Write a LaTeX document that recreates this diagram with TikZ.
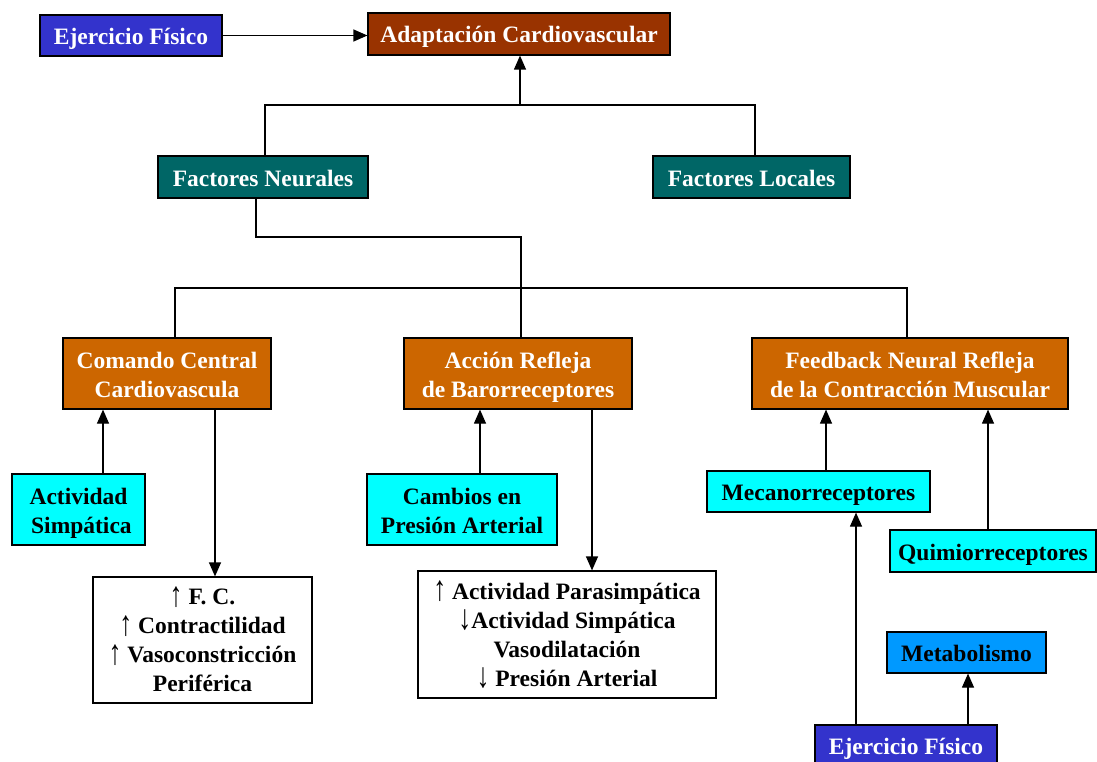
\documentclass[tikz,border=0pt]{standalone}
\usepackage{fontspec}
\usepackage{graphicx}
\setmainfont{Liberation Serif}
\usetikzlibrary{arrows.meta}
\definecolor{cEjer}{HTML}{3333CC}
\definecolor{cAdapt}{HTML}{993300}
\definecolor{cFact}{HTML}{006666}
\definecolor{cOrange}{HTML}{CC6600}
\definecolor{cCyan}{HTML}{00FFFF}
\definecolor{cMetab}{HTML}{0099FF}
\newcommand{\upar}{\raisebox{-1.5pt}{\scalebox{1.1}[1.5]{\mdseries ↑}}}
\newcommand{\dnar}{\raisebox{-1.5pt}{\scalebox{1.1}[1.5]{\mdseries ↓}}}
\tikzset{
  box/.style={draw=black, line width=1.2pt, inner sep=0pt, align=center,
    text height=22pt, text depth=4pt,
    font=\bfseries\fontsize{23.5}{29}\selectfont},
  twoline/.style={text height=51pt, text depth=4pt},
  darkbox/.style={box, text=white},
  lightbox/.style={box, text=black},
  listbox/.style={lightbox, fill=white, text height=107pt, text depth=4pt},
  conn/.style={line width=1.2pt, black},
  arr/.style={conn, -{Triangle[width=12pt,length=14pt]}},
}
\begin{document}
\begin{tikzpicture}[x=1pt,y=-1pt]
\useasboundingbox (0,0) rectangle (1097,762);
% boxes
\node[darkbox, fill=cEjer, minimum width=182pt, minimum height=41pt] (ejer1) at (131,35.5) {Ejercicio Físico};
\node[darkbox, fill=cAdapt, minimum width=302pt, minimum height=42pt] (adapt) at (519,34) {Adaptación Cardiovascular};
\node[darkbox, fill=cFact, minimum width=210pt, minimum height=42pt] (fneu) at (263,177) {Factores Neurales};
\node[darkbox, fill=cFact, minimum width=197pt, minimum height=42pt] (floc) at (751.5,177) {Factores Locales};
\node[darkbox, twoline, fill=cOrange, minimum width=208pt, minimum height=71pt] (coman) at (167,373.5) {Comando Central\\Cardiovascula};
\node[darkbox, twoline, fill=cOrange, minimum width=228pt, minimum height=71pt] (accion) at (518,373.5) {Acción Refleja\\de Barorreceptores};
\node[darkbox, twoline, fill=cOrange, minimum width=316pt, minimum height=71pt] (feed) at (910,373.5) {Feedback Neural Refleja\\de la Contracción Muscular};
\node[lightbox, twoline, fill=cCyan, minimum width=133pt, minimum height=71pt] (actsim) at (78.5,509.5) {Actividad\\\ Simpática};
\node[lightbox, twoline, fill=cCyan, minimum width=190pt, minimum height=71pt] (cambios) at (462,509.5) {Cambios en\\Presión Arterial};
\node[listbox, minimum width=219pt, minimum height=126pt] (box1) at (202.5,640) {\upar{} F. C.\\\upar{} Contractilidad\\\upar{} Vasoconstricción\\Periférica};
\node[listbox, minimum width=298pt, minimum height=127pt] (box2) at (567,634.5) {\upar{} Actividad Parasimpática\\\dnar{}Actividad Simpática\\Vasodilatación\\\dnar{} Presión Arterial};
\node[lightbox, fill=cCyan, minimum width=223pt, minimum height=41pt] (meca) at (818.5,491.5) {Mecanorreceptores};
\node[lightbox, fill=cCyan, minimum width=206pt, minimum height=42pt] (quimi) at (993,551) {Quimiorreceptores};
\node[lightbox, fill=cMetab, minimum width=159pt, minimum height=41pt] (metab) at (966.5,652.5) {Metabolismo};
\node[darkbox, fill=cEjer, minimum width=182pt, minimum height=41pt] (ejer2) at (906,745.5) {Ejercicio Físico};
% junctions
\coordinate (j1) at (520,105);
\coordinate (j2) at (521,237);
\coordinate (j3) at (521,288);
% connectors
\draw[arr] (ejer1.east) -- (ejer1.east -| adapt.west);
\draw[conn] (fneu.north -| 265,0) |- (j1) -| (floc.north -| 755,0);
\draw[arr] (j1) -- (j1 |- adapt.south);
\draw[conn] (fneu.south -| 256,0) |- (j2) -- (j3);
\draw[conn] (coman.north -| 175,0) |- (j3) -| (feed.north -| 907,0);
\draw[conn] (j3) -- (j3 |- accion.north);
\draw[arr] (actsim.north -| 103,0) -- (coman.south -| 103,0);
\draw[arr] (coman.south -| 215,0) -- (box1.north -| 215,0);
\draw[arr] (cambios.north -| 480,0) -- (accion.south -| 480,0);
\draw[arr] (accion.south -| 592,0) -- (box2.north -| 592,0);
\draw[arr] (meca.north -| 826,0) -- (feed.south -| 826,0);
\draw[arr] (quimi.north -| 988,0) -- (feed.south -| 988,0);
\draw[arr] (ejer2.north -| 856,0) -- (meca.south -| 856,0);
\draw[arr] (ejer2.north -| 968,0) -- (metab.south -| 968,0);
\end{tikzpicture}
\end{document}
